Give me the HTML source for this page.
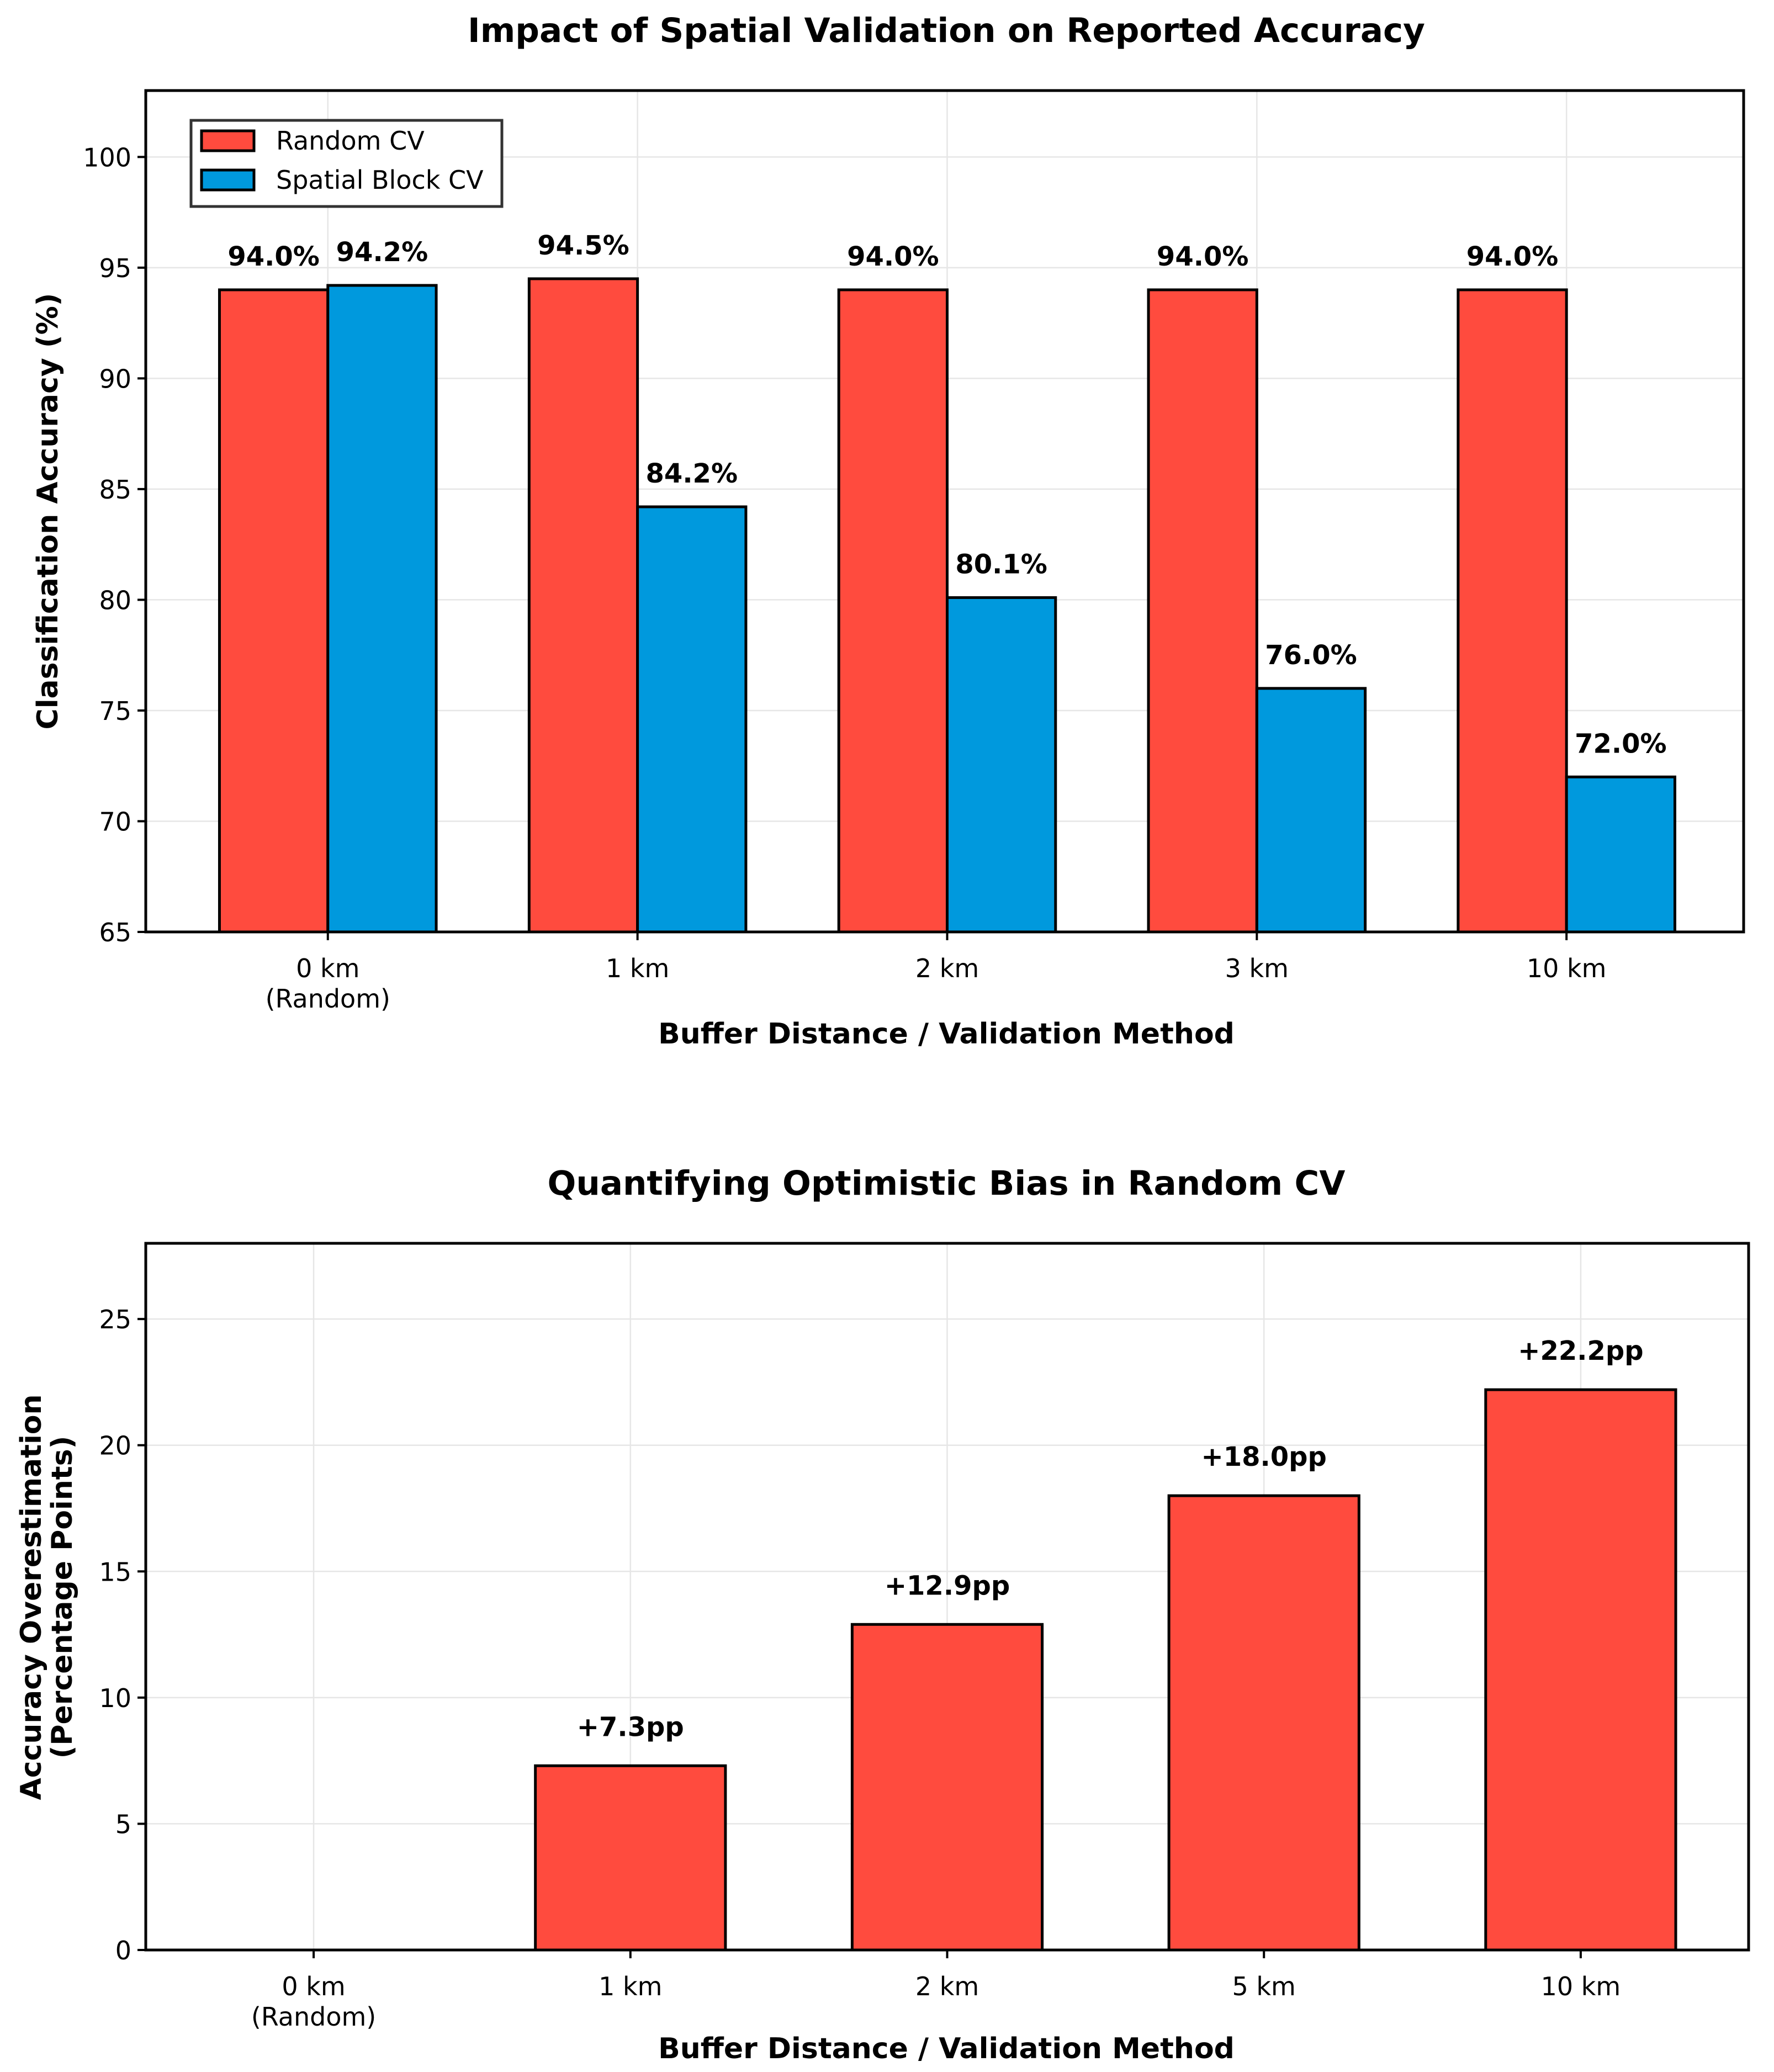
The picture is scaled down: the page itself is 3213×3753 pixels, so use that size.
<!DOCTYPE html>
<html><head><meta charset="utf-8"><style>
html,body{margin:0;padding:0;background:#fff}
svg{display:block}
text{font-family:"DejaVu Sans","Liberation Sans",sans-serif;fill:#000}
</style></head><body>
<svg id="chart" xmlns="http://www.w3.org/2000/svg" width="3213" height="3753" viewBox="0 0 3213 3753"></svg>
<script>
const categories1 = ["0 km|(Random)", "1 km", "2 km", "3 km", "10 km"];
const randomCV = [94.0, 94.5, 94.0, 94.0, 94.0];
const spatialCV = [94.2, 84.2, 80.1, 76.0, 72.0];
const yTicks1 = [65, 70, 75, 80, 85, 90, 95, 100];
const categories2 = ["0 km|(Random)", "1 km", "2 km", "5 km", "10 km"];
const bias = [0, 7.3, 12.9, 18.0, 22.2];
const yTicks2 = [0, 5, 10, 15, 20, 25];

const NS = "http://www.w3.org/2000/svg";
const svg = document.getElementById('chart');
function mk(tag, attrs, parent) {
  const e = document.createElementNS(NS, tag);
  for (const k in attrs) e.setAttribute(k, attrs[k]);
  (parent || svg).appendChild(e);
  return e;
}
const RED = "#FF4B3E", BLUE = "#0099DD";

function axes(cfg) {
  const g = mk('g', {});
  const L = cfg.left, R = cfg.right, T = cfg.top, B = cfg.bottom;
  const xs = i => L + (i - cfg.xmin) / (cfg.xmax - cfg.xmin) * (R - L);
  const ys = v => B - (v - cfg.ymin) / (cfg.ymax - cfg.ymin) * (B - T);
  cfg.cats.forEach((c, i) => {
    const l = mk('line', {x1: xs(i), x2: xs(i), y1: T, y2: B, stroke: "#e6e6e6", "stroke-width": 2.5}, g);
    
    
  });
  cfg.yticks.forEach(v => {
    const l = mk('line', {x1: L, x2: R, y1: ys(v), y2: ys(v), stroke: "#e6e6e6", "stroke-width": 2.5}, g);
    
    
  });
  return {g, xs, ys};
}
function frame(cfg, ax) {
  const g = ax.g;
  const r = mk('rect', {x: cfg.left, y: cfg.top, width: cfg.right - cfg.left, height: cfg.bottom - cfg.top, fill: "none", stroke: "#000", "stroke-width": 5}, g);
  
  
  cfg.yticks.forEach(v => {
    const y = ax.ys(v);
    const t = mk('line', {x1: cfg.left - 15, x2: cfg.left, y1: y, y2: y, stroke: "#000", "stroke-width": 4}, g);
    
    
    const tx = mk('text', {x: cfg.left - 26, y: y + 17, "text-anchor": "end", "font-size": 46}, g);
    tx.textContent = v;
    
    
  });
  cfg.cats.forEach((c, i) => {
    const x = ax.xs(i);
    const t = mk('line', {x1: x, x2: x, y1: cfg.bottom, y2: cfg.bottom + 15, stroke: "#000", "stroke-width": 4}, g);
    
    
    c.split('|').forEach((line, j) => {
      const tx = mk('text', {x: x, y: cfg.bottom + 82 + j * 55, "text-anchor": "middle", "font-size": 46}, g);
      tx.textContent = line;
      
      
    });
  });
}
function label(x, y, txt, size, name, rot) {
  const a = {x: x, y: y, "text-anchor": "middle", "font-size": size, "font-weight": "bold"};
  if (rot) a.transform = `rotate(-90 ${x} ${y})`;
  const t = mk('text', a);
  t.textContent = txt;
  
  
  return t;
}

// ---------- Chart 1 ----------
const c1 = {left: 264, right: 3158, top: 164, bottom: 1688, xmin: -0.588, xmax: 4.572, ymin: 65, ymax: 103, cats: categories1, yticks: yTicks1};
const a1 = axes(c1);
const bw1 = 0.35;
function bars(ax, vals, off, w, color, name, fmt, ymin, gap) {
  vals.forEach((v, i) => {
    const x0 = ax.xs(i + off - w / 2), x1 = ax.xs(i + off + w / 2);
    const yT = ax.ys(v), yB = ax.ys(ymin);
    if (v > ymin) {
      const r = mk('rect', {x: x0, y: yT, width: x1 - x0, height: yB - yT, fill: color, stroke: "#000", "stroke-width": 5}, ax.g);
      
      
      const t = mk('text', {x: (x0 + x1) / 2, y: yT - gap, "text-anchor": "middle", "font-size": 48, "font-weight": "bold"}, ax.g);
      t.textContent = fmt(v);
      
      
    }
  });
}
bars(a1, randomCV, -bw1 / 2, bw1, RED, 'bar-random-cv', v => v.toFixed(1) + '%', 65, 44);
bars(a1, spatialCV, bw1 / 2, bw1, BLUE, 'bar-spatial-cv', v => v.toFixed(1) + '%', 65, 44);
frame(c1, a1);
label(1714, 76, "Impact of Spatial Validation on Reported Accuracy", 61, 'chart-title-top');
label(1714, 1890, "Buffer Distance / Validation Method", 52, 'x-axis-title-top');
label(104, 926, "Classification Accuracy (%)", 52, 'y-axis-title-top', true);

// legend
const lg = mk('g', {});


mk('rect', {x: 346, y: 218, width: 563, height: 156, fill: "#fff", stroke: "#333", "stroke-width": 5}, lg);
[[RED, "Random CV", 237], [BLUE, "Spatial Block CV", 308]].forEach(([col, txt, y], k) => {
  const p = mk('rect', {x: 365, y: y, width: 95, height: 36, fill: col, stroke: "#000", "stroke-width": 5}, lg);
  
  
  const t = mk('text', {x: 500, y: y + 34, "font-size": 46}, lg);
  t.textContent = txt;
  
  
});

// ---------- Chart 2 ----------
const c2 = {left: 264, right: 3167, top: 2252, bottom: 3532, xmin: -0.53, xmax: 4.53, ymin: 0, ymax: 28, cats: categories2, yticks: yTicks2};
const a2 = axes(c2);
bars(a2, bias, 0, 0.6, RED, 'bar-bias', v => '+' + v.toFixed(1) + 'pp', 0, 54);
frame(c2, a2);
label(1714, 2164, "Quantifying Optimistic Bias in Random CV", 61, 'chart-title-bottom');
label(1714, 3728, "Buffer Distance / Validation Method", 52, 'x-axis-title-bottom');
label(74, 2893, "Accuracy Overestimation", 52, 'y-axis-title-bottom', true);
label(130, 2893, "(Percentage Points)", 52, 'y-axis-subtitle-bottom', true);
</script>
</body></html>
